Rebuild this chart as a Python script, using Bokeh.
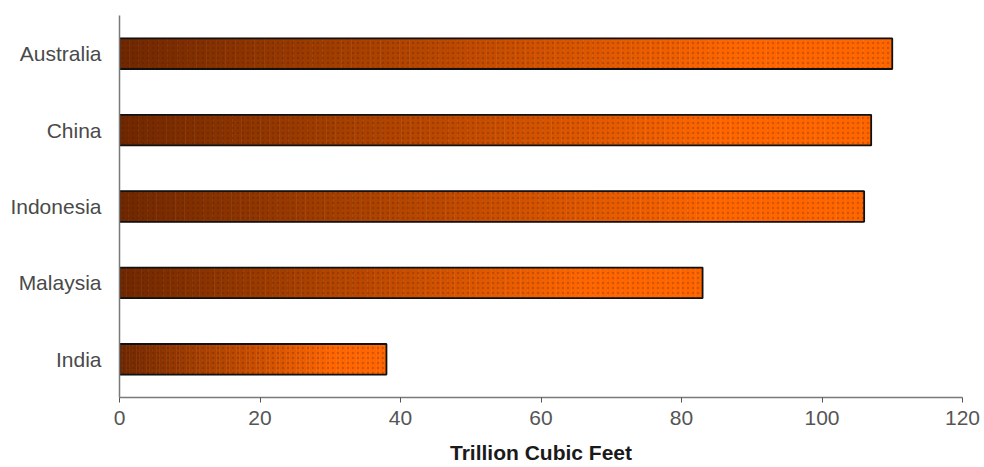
import numpy as np
from bokeh.plotting import figure
from bokeh.models import ColumnDataSource
from bokeh.embed import file_html
from bokeh.resources import INLINE

# Proved reserves by country (trillion cubic feet)
countries = ["India", "Malaysia", "Indonesia", "China", "Australia"]
reserves = [38, 83, 106, 107, 110]
x_ticks = [0, 20, 40, 60, 80, 100, 120]

BAR_H = 0.4
N_SEG = 80
dark = np.array([0x70, 0x28, 0x00], dtype=float)
light = np.array([0xff, 0x66, 0x00], dtype=float)


def shade(t):
    f = min(1.0, t / 0.8)
    c = dark + (light - dark) * f
    return "#%02x%02x%02x" % tuple(int(round(v)) for v in c)


# Split every bar into thin slices so each one fades dark -> orange along its own length
seg_y, seg_l, seg_r, seg_c = [], [], [], []
for c, v in zip(countries, reserves):
    edges = np.linspace(0, v, N_SEG + 1)
    for k in range(N_SEG):
        seg_y.append(c)
        seg_l.append(edges[k])
        seg_r.append(edges[k + 1])
        seg_c.append(shade((k + 0.5) / N_SEG))

segs = ColumnDataSource(dict(y=seg_y, left=seg_l, right=seg_r, color=seg_c))
bars = ColumnDataSource(dict(y=countries, right=reserves))

p = figure(
    width=984, height=467,
    y_range=countries, x_range=(0, 120),
    output_backend="svg", toolbar_location=None,
    min_border_left=119, min_border_right=22,
    min_border_top=15, min_border_bottom=70,
)

p.hbar(y="y", left="left", right="right", height=BAR_H, source=segs,
       fill_color="color", line_color="color", line_width=0.6)
# dithered texture over the gradient
p.hbar(y="y", left=0, right="right", height=BAR_H, source=bars,
       fill_color=None, line_color=None,
       hatch_pattern="dot", hatch_color="#3a1400", hatch_alpha=0.22, hatch_scale=5)
p.hbar(y="y", left=0, right="right", height=BAR_H, source=bars,
       fill_color=None, line_color="#111111", line_width=1.8)

p.outline_line_color = None
p.xgrid.visible = False
p.ygrid.visible = False

font = "Liberation Sans"
ax = p.xaxis[0]
ax.ticker = x_ticks
ax.axis_label = "Trillion Cubic Feet"
ax.axis_label_text_font = font
ax.axis_label_text_font_style = "bold"
ax.axis_label_text_font_size = "21px"
ax.axis_label_text_color = "#1a1a1a"
ax.axis_label_text_line_height = 1.0
ax.axis_label_standoff = 13
ax.major_label_text_font = font
ax.major_label_text_font_size = "21px"
ax.major_label_text_color = "#555555"
ax.major_label_text_line_height = 1.0
ax.major_label_standoff = 8
ax.major_tick_in = 0
ax.major_tick_out = 5
ax.major_tick_line_color = "#555555"
ax.minor_tick_line_color = None
ax.axis_line_color = "#7a7a7a"
ax.axis_line_width = 1.5

ay = p.yaxis[0]
ay.major_label_text_font = font
ay.major_label_text_font_size = "21px"
ay.major_label_text_color = "#4a4a4a"
ay.major_label_standoff = 12
ay.major_tick_line_color = None
ay.minor_tick_line_color = None
ay.axis_line_color = "#7a7a7a"
ay.axis_line_width = 1.5

open("out.html", "w").write(file_html(p, INLINE))
